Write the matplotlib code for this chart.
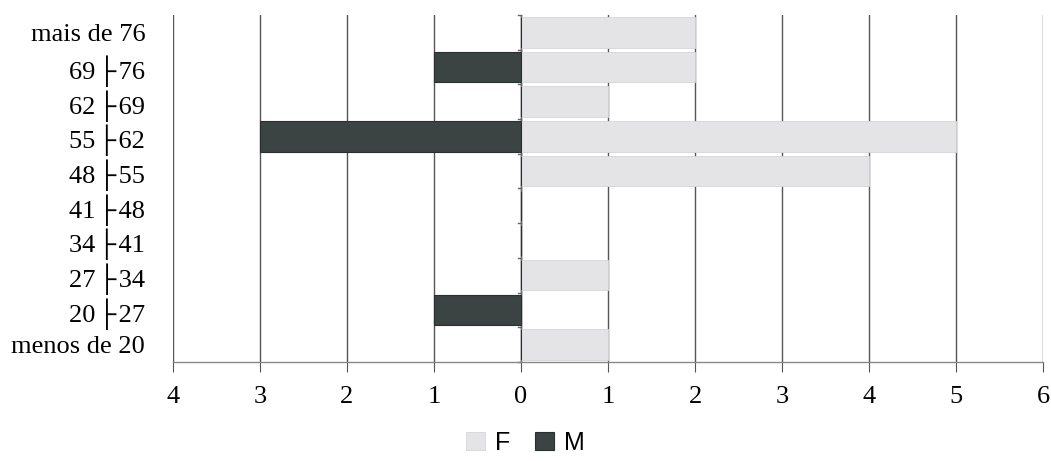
import matplotlib
matplotlib.use("Agg")
import matplotlib.pyplot as plt
import numpy as np
from matplotlib.ticker import FixedLocator, FuncFormatter

categories = ["menos de 20", "20\u200a├\u200a27", "27\u200a├\u200a34", "34\u200a├\u200a41", "41\u200a├\u200a48",
              "48\u200a├\u200a55", "55\u200a├\u200a62", "62\u200a├\u200a69", "69\u200a├\u200a76", "mais de 76"]
f_values = [1, 0, 1, 0, 0, 4, 5, 1, 2, 2]
m_values = [0, 1, 0, 0, 0, 0, 3, 0, 1, 0]
x_ticks = [-4, -3, -2, -1, 0, 1, 2, 3, 4, 5, 6]

fig = plt.figure(figsize=(10.51, 4.61), dpi=100)
ax = fig.add_axes([0.1646, 0.2148, 0.8278, 0.7527])

y = np.arange(len(categories))
ax.barh(y, f_values, height=0.88, color="#e4e4e6", edgecolor="#d6d6d8", linewidth=0.6, label="F", zorder=3)
ax.barh(y, [-v for v in m_values], height=0.88, color="#3c4343", edgecolor="#2a2f2f", linewidth=0.8, label="M", zorder=3)

ax.set_xlim(-4, 6)
ax.set_ylim(-0.5, len(categories) - 0.5)
ax.xaxis.set_major_locator(FixedLocator(x_ticks))
ax.xaxis.set_major_formatter(FuncFormatter(lambda v, p: f"{abs(int(round(v)))}"))
ax.grid(axis="x", color="#555555", linewidth=1.0, zorder=1)
ax.set_axisbelow(True)

for s in ["top", "right", "left"]:
    ax.spines[s].set_visible(False)
ax.spines["bottom"].set_color("#888888")
ax.spines["bottom"].set_linewidth(1.0)

serif = ["Liberation Serif", "DejaVu Serif"]
ax.set_yticks(y)
ax.set_yticklabels(categories)
for lab in ax.get_yticklabels():
    lab.set_family(serif)
    lab.set_fontsize(19)
ax.tick_params(axis="y", length=0, pad=20)
ax.tick_params(axis="x", length=7, color="#555555", pad=10)
for lab in ax.get_xticklabels():
    lab.set_family(serif)
    lab.set_fontsize(19)

# central axis at zero with small ticks at category boundaries
ax.axvline(0, color="#666666", linewidth=1.0, zorder=2)
for b in np.arange(-0.5, len(categories), 1.0):
    ax.plot([-0.04, 0], [b, b], color="#666666", linewidth=1.0, zorder=2, clip_on=False)

leg = fig.legend(loc="lower center", bbox_to_anchor=(0.5, -0.035), ncol=2, frameon=False,
                 handlelength=0.75, handleheight=0.75, columnspacing=1.0,
                 handletextpad=0.4, prop={"family": "Liberation Sans", "size": 18})

fig.savefig("out.png", dpi=100)
